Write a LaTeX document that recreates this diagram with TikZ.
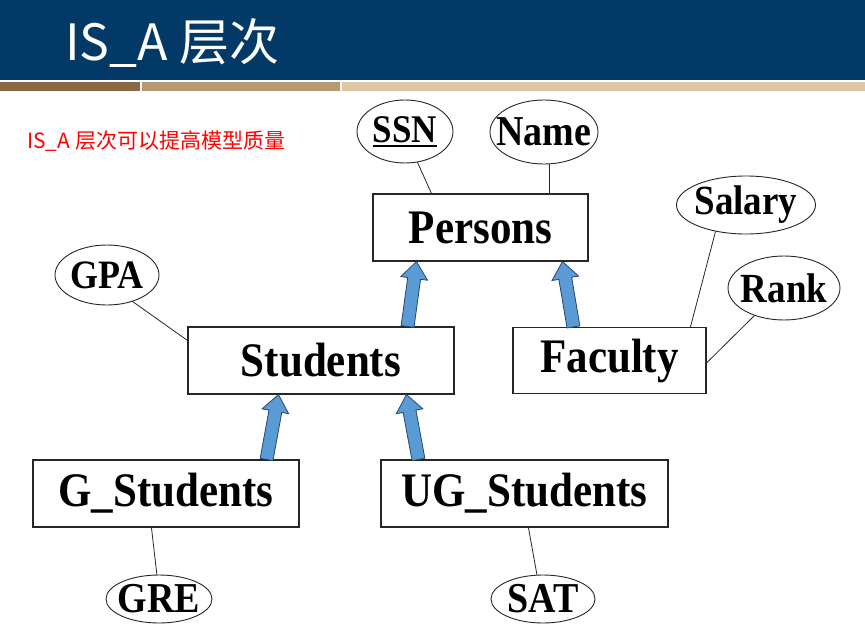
\documentclass[tikz,border=0pt]{standalone}
\usepackage{fontspec}
\newfontfamily\tnr{Liberation Serif}
\newfontfamily\cjk{Noto Sans CJK SC}
\usetikzlibrary{shapes.geometric,calc}
\definecolor{hdrblue}{RGB}{2,57,103}
\definecolor{stripeA}{RGB}{140,104,66}
\definecolor{stripeB}{RGB}{184,152,112}
\definecolor{stripeC}{RGB}{224,198,163}
\definecolor{isafill}{RGB}{91,155,213}
\definecolor{isadraw}{RGB}{40,70,110}
\newcommand{\lab}[2]{{\fontsize{#1}{#1}\selectfont\tnr\bfseries\scalebox{1}[1.12]{#2}}}
\newcommand{\ulssn}{{\setbox0\hbox{SSN}\rlap{\rule[-4pt]{\wd0}{1.4pt}}\box0}}
\newcommand{\isaarrow}[2]{%
  \coordinate (hb) at ($(#2)!17pt!(#1)$);
  \draw[isa] ($(#1)!6.5pt!90:(#2)$) -- ($(hb)!6.5pt!90:(#2)$) -- ($(hb)!13.5pt!90:(#2)$)
    -- (#2) -- ($(hb)!13.5pt!-90:(#2)$) -- ($(hb)!6.5pt!-90:(#2)$) -- ($(#1)!6.5pt!-90:(#2)$) -- cycle;}
\tikzset{
  ent/.style={draw=black!85, line width=1.1pt, rectangle, inner sep=0pt, fill=white},
  attr/.style={draw=black!85, line width=0.9pt, ellipse, inner sep=0pt, fill=white},
  rel/.style={draw=black!85, line width=0.8pt},
  isa/.style={fill=isafill, draw=isadraw, line width=0.8pt, line join=miter},
  plain/.style={inner sep=0pt, anchor=base west},
}
\begin{document}
\begin{tikzpicture}[x=1pt,y=-1pt]
\useasboundingbox (0,0) rectangle (865,632);
\fill[white] (0,0) rectangle (865,632);
% header
\fill[hdrblue] (0,0) rectangle (865,80);
\fill[stripeA] (0,81.5) rectangle (140,91);
\fill[stripeB] (141.5,81.5) rectangle (340,91);
\fill[stripeC] (341.5,81.5) rectangle (865,91);
\node[plain, text=white, font=\cjk\fontsize{50}{50}\selectfont] (title) at (65,60) {IS\_A 层次};
\node[plain, text=red, font=\cjk\fontsize{21}{21}\selectfont] (note) at (27,148) {IS\_A 层次可以提高模型质量};

% entities
\node[ent, minimum width=215pt, minimum height=67pt] (persons) at (480.5,227.5) {\lab{43}{Persons}};
\node[ent, minimum width=266pt, minimum height=67pt] (students) at (321,360.5) {\lab{43}{Students}};
\node[ent, minimum width=193pt, minimum height=66pt] (faculty) at (609.5,360.5) {\lab{43}{Faculty}};
\node[ent, minimum width=266pt, minimum height=67pt] (gstudents) at (166,493.5) {\lab{43}{G\_Students}};
\node[ent, minimum width=287pt, minimum height=67pt] (ugstudents) at (524.5,493.5) {\lab{43}{UG\_Students}};

% attributes
\node[attr, minimum width=96pt, minimum height=63pt, label={center:\lab{35}{\ulssn}}] (ssn) at (405,131.5) {};
\node[attr, minimum width=108pt, minimum height=64pt, label={center:\lab{38}{Name}}] (name) at (544,132) {};
\node[attr, minimum width=104pt, minimum height=60pt, label={center:\lab{36}{GPA}}] (gpa) at (107,275) {};
\node[attr, minimum width=139pt, minimum height=58pt, label={center:\lab{37}{Salary}}] (salary) at (746,205) {};
\node[attr, minimum width=112pt, minimum height=64pt, label={center:\lab{37}{Rank}}] (rank) at (784,288) {};
\node[attr, minimum width=106pt, minimum height=48pt, label={center:\lab{38}{GRE}}] (gre) at (159,599) {};
\node[attr, minimum width=104pt, minimum height=48pt, label={center:\lab{38}{SAT}}] (sat) at (543,599) {};

% attribute links
\draw[rel] (ssn.-68) -- ($(persons.north west)+(59,0)$);
\draw[rel] (name.-80) -- (name.-80 |- persons.north);
\draw[rel] (gpa.-46) -- ($(students.north west)+(0,14)$);
\draw[rel] (salary.-139) -- ($(faculty.north west)+(178,0)$);
\draw[rel] (rank.-137) -- ($(faculty.north east)+(0,36)$);
\draw[rel] ($(gstudents.south west)+(119,0)$) -- (gre.95);
\draw[rel] ($(ugstudents.south west)+(148,0)$) -- (sat.104);

% IS_A arrows
\coordinate (a1t) at ($(students.north east)+(-47,0)$);
\coordinate (a1h) at ($(persons.south west)+(44,0)$);
\coordinate (a2t) at ($(faculty.north west)+(61,0)$);
\coordinate (a2h) at ($(persons.south west)+(190,0)$);
\coordinate (a3t) at ($(gstudents.north east)+(-33,0)$);
\coordinate (a3h) at ($(students.south west)+(91,0)$);
\coordinate (a4t) at ($(ugstudents.north west)+(38,0)$);
\coordinate (a4h) at ($(students.south west)+(219,0)$);
\isaarrow{a1t}{a1h}
\isaarrow{a2t}{a2h}
\isaarrow{a3t}{a3h}
\isaarrow{a4t}{a4h}
\end{tikzpicture}
\end{document}
